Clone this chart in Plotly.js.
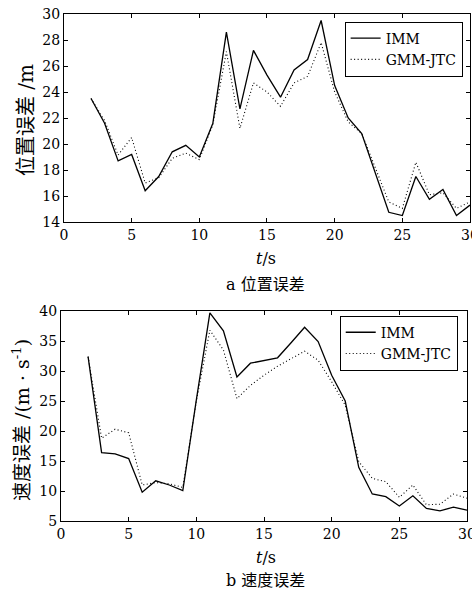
<!DOCTYPE html>
<html><head><meta charset="utf-8">
<script src="https://cdn.plot.ly/plotly-3.0.1.min.js"></script>
<style>html,body{margin:0;padding:0;background:#fff}#c{width:472px;height:597px}</style>
</head><body><div id="c"></div>
<script>
var t = [2,3,4,5,6,7,8,9,10,11,12,13,14,15,16,17,18,19,20,21,22,23,24,25,26,27,28,29,30];
var posIMM = [23.5,21.6,18.7,19.2,16.4,17.5,19.4,19.9,19.0,21.6,28.6,22.7,27.2,25.3,23.6,25.7,26.5,29.5,24.5,22.0,20.8,17.7,14.75,14.5,17.5,15.75,16.5,14.5,15.3];
var posGMM = [23.5,21.8,19.15,20.5,17.0,17.4,18.9,19.3,18.8,21.5,27.1,21.2,24.7,24.0,22.9,24.7,25.2,27.8,24.0,21.7,20.8,18.1,15.55,15.05,18.6,16.1,16.25,15.05,15.55];
var velIMM = [32.4,16.4,16.2,15.4,9.8,11.7,11.0,10.05,25.2,39.7,36.7,29.0,31.3,31.8,32.2,34.7,37.3,34.9,29.3,25.0,13.95,9.5,9.05,7.5,9.2,7.1,6.7,7.3,6.8];
var velGMM = [32.4,18.8,20.3,19.7,11.0,11.4,11.2,10.6,25.0,36.8,33.5,25.4,27.6,29.3,30.8,32.1,33.3,31.8,28.2,24.3,14.9,12.1,11.55,8.95,11.0,7.7,7.8,9.5,8.8];
var names = ['IMM','GMM-JTC'];
var posTicks = [14,16,18,20,22,24,26,28,30];
var velTicks = [5,10,15,20,25,30,35,40];
var xTicks = [0,5,10,15,20,25,30];

var FONT = 'DejaVu Serif, Noto Sans CJK SC, serif';
function tr(x,y,name,dash,xa,ya,lg){
  return {x:x,y:y,name:name,type:'scatter',mode:'lines',xaxis:xa,yaxis:ya,
    line:{color:'#000',width:dash==='solid'?1.3:1.1,dash:dash},showlegend:true,legend:lg};
}
var DOT = '1px,2.5px';
var data = [
  tr(t,posIMM,names[0],'solid','x','y','legend'),
  tr(t,posGMM,names[1],DOT,'x','y','legend'),
  tr(t,velIMM,names[0],'solid','x2','y2','legend2'),
  tr(t,velGMM,names[1],DOT,'x2','y2','legend2')
];
function ax(o){
  return Object.assign({showline:true,mirror:'ticks',linecolor:'#000',linewidth:1,ticks:'inside',ticklen:4,
    tickcolor:'#000',showgrid:false,zeroline:false,ticklabeloverflow:'allow',
    tickfont:{family:FONT,size:14,color:'#000'}},o);
}
var LEGFONT = {family:FONT,size:14,color:'#000'};
var layout = {
  width:472,height:597,margin:{l:61,r:2,t:14,b:76},paper_bgcolor:'#fff',plot_bgcolor:'#fff',
  font:{family:FONT,color:'#000'},
  xaxis:ax({domain:[0.0073,1],range:[0,30],tickvals:xTicks,anchor:'y'}),
  yaxis:ax({domain:[0.5897,1],range:[14,30],tickvals:posTicks,anchor:'x'}),
  xaxis2:ax({domain:[0,0.9927],range:[0,30],tickvals:xTicks,anchor:'y2'}),
  yaxis2:ax({domain:[0,0.4142],range:[5,40],tickvals:velTicks,anchor:'x2'}),
  legend:{x:0.982,y:0.985,xanchor:'right',yanchor:'top',bordercolor:'#000',borderwidth:1,bgcolor:'#fff',
    font:LEGFONT,tracegroupgap:0,itemwidth:30},
  legend2:{x:0.97,y:0.405,xanchor:'right',yanchor:'top',bordercolor:'#000',borderwidth:1,bgcolor:'#fff',
    font:LEGFONT,tracegroupgap:0,itemwidth:30},
  annotations:[
    {text:'<i>t</i>/s',xref:'paper',yref:'paper',x:0.5,y:(521-258)/507,yanchor:'middle',showarrow:false,font:{family:FONT,size:16}},
    {text:'a 位置误差',xref:'paper',yref:'paper',x:0.5,y:(521-284)/507,yanchor:'middle',showarrow:false,font:{family:FONT,size:16}},
    {text:'<i>t</i>/s',xref:'paper',yref:'paper',x:0.5,y:(521-557)/507,yanchor:'middle',showarrow:false,font:{family:FONT,size:16}},
    {text:'b 速度误差',xref:'paper',yref:'paper',x:0.5,y:(521-580)/507,yanchor:'middle',showarrow:false,font:{family:FONT,size:16}},
    {text:'位置误差 /m',xref:'paper',yref:'paper',x:(26-61)/409,y:(521-120)/507,xanchor:'center',yanchor:'middle',textangle:-90,showarrow:false,font:{family:FONT,size:20}},
    {text:'速度误差 /(m · s<sup>-1</sup>)',xref:'paper',yref:'paper',x:(21-61)/409,y:(521-420)/507,xanchor:'center',yanchor:'middle',textangle:-90,showarrow:false,font:{family:FONT,size:19}}
  ]
};
Plotly.newPlot('c',data,layout,{staticPlot:true});
</script></body></html>
